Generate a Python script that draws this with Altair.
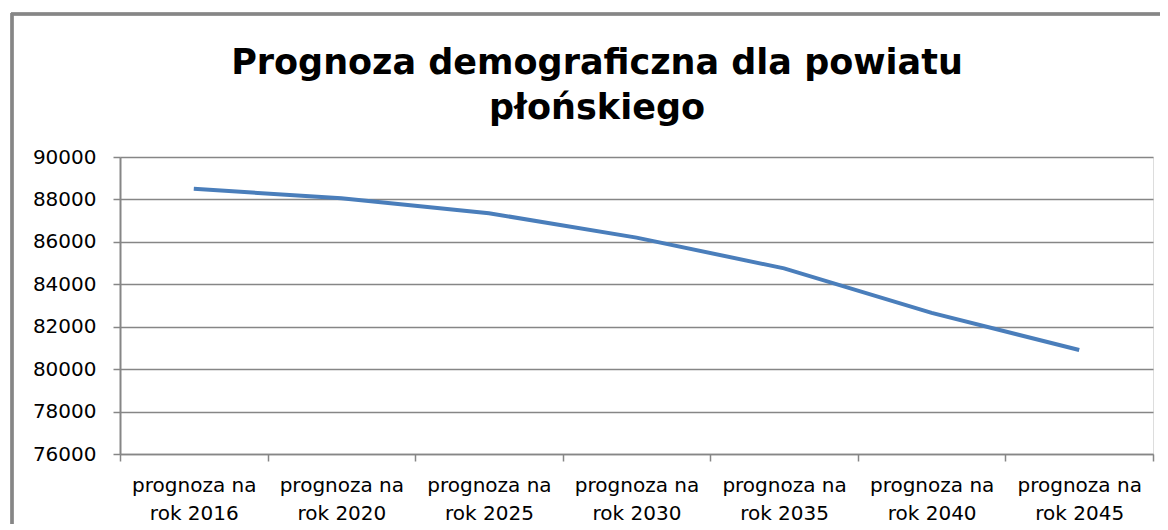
import altair as alt
import pandas as pd

categories = [
    "prognoza na rok 2016",
    "prognoza na rok 2020",
    "prognoza na rok 2025",
    "prognoza na rok 2030",
    "prognoza na rok 2035",
    "prognoza na rok 2040",
    "prognoza na rok 2045",
]
population = [88500, 88050, 87350, 86200, 84750, 82650, 80900]
y_ticks = [76000, 78000, 80000, 82000, 84000, 86000, 88000, 90000]

df = pd.DataFrame({"kategoria": categories, "ludnosc": population})

FONT = "DejaVu Sans"
GRAY = "#868686"

x_enc = alt.X(
    "kategoria:N",
    sort=categories,
    title=None,
    scale=alt.Scale(paddingInner=0, paddingOuter=0),
    axis=alt.Axis(
        tickBand="extent",
        labelAngle=0,
        labelExpr="[slice(datum.label, 0, 11), slice(datum.label, 12)]",
        labelFont=FONT,
        labelFontSize=20,
        labelColor="#000000",
        labelLineHeight=28,
        labelPadding=14,
        labelBaseline="top",
        tickColor=GRAY,
        tickSize=7,
        tickWidth=1.5,
        domainColor=GRAY,
        domainWidth=1.5,
        grid=False,
    ),
)

y_enc = alt.Y(
    "ludnosc:Q",
    title=None,
    scale=alt.Scale(domain=[76000, 90000], nice=False, zero=False),
    axis=alt.Axis(
        values=y_ticks,
        format="d",
        labelFont=FONT,
        labelFontSize=20,
        labelColor="#000000",
        labelPadding=17,
        tickColor=GRAY,
        tickSize=7,
        tickWidth=1.5,
        domainColor=GRAY,
        domainWidth=2,
        gridColor=GRAY,
        gridWidth=1.5,
    ),
)

line = alt.Chart(df).mark_line(color="#4a7ebb", strokeWidth=4, clip=False).encode(
    x=x_enc, y=y_enc
)

# outer chart-area border (top and left edges are visible in the reference)
frame_top = alt.Chart(df).mark_rule(color=GRAY, strokeWidth=2.5, clip=False).encode(
    x=alt.value(-109),
    x2=alt.value(1100),
    y=alt.value(-143),
)
frame_left = alt.Chart(df).mark_rule(color=GRAY, strokeWidth=2.5, clip=False).encode(
    x=alt.value(-108),
    y=alt.value(-144),
    y2=alt.value(450),
)

chart = (
    alt.layer(frame_top, frame_left, line)
    .properties(
        width=1033,
        height=297,
        padding={"left": 112, "top": 149, "right": 7, "bottom": 70},
        autosize=alt.AutoSizeParams(type="none"),
        title=alt.TitleParams(
            text=["Prognoza demograficzna dla powiatu", "płońskiego"],
            font=FONT,
            fontSize=35,
            fontWeight="bold",
            color="#000000",
            anchor="middle",
            align="center",
            orient="none",
            baseline="alphabetic",
            dx=477,
            dy=-83,
            lineHeight=45,
        ),
    )
    .configure_view(stroke=None)
    .configure(background="white")
)

chart.save("out.html", embed_options={"renderer": "svg", "actions": False})
